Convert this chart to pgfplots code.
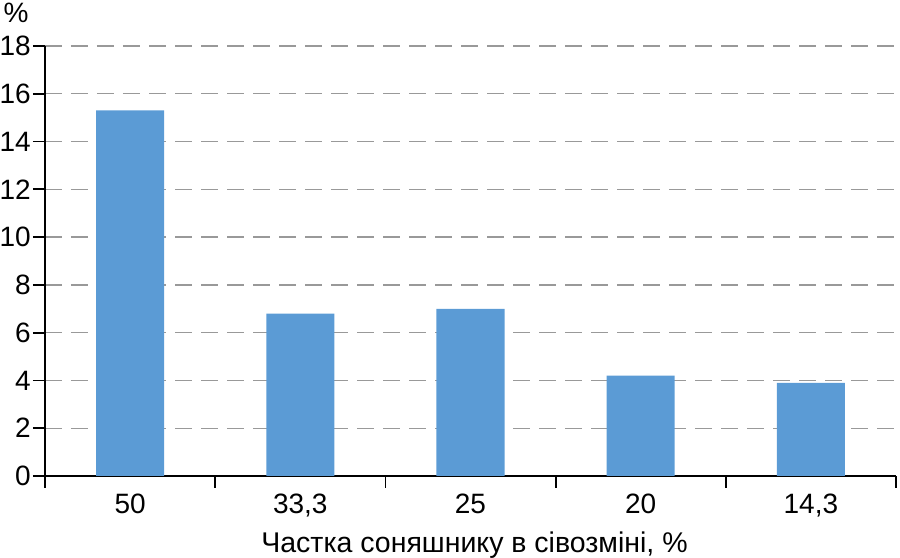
\documentclass[border=0pt]{standalone}
\usepackage{fontspec}
\setmainfont{Liberation Sans}
\usepackage{pgfplots}
\pgfplotsset{compat=1.18}
\definecolor{barblue}{RGB}{91,155,213}
\begin{document}
\begin{tikzpicture}
\begin{axis}[
 name=ax,
 width=851pt, height=430pt, scale only axis,
 xmin=-0.5, xmax=4.5, ymin=0, ymax=18,
 axis x line*=bottom, axis y line*=left,
 axis line style={line width=1.8pt, -},
 ytick={0,2,...,18},
 xtick={-0.5,0.5,...,4.5},
 x tick label as interval,
 xticklabels={50,{33,3},25,20,{14,3}},
 major tick length=12pt,
 tick style={line width=1.8pt, black},
 tick align=outside,
 ymajorgrids,
 grid style={black!40, dash pattern=on 17pt off 9pt, line width=1.3pt},
 every tick label/.append style={font=\fontsize{28}{32}\selectfont},
 yticklabel style={inner sep=2pt},
 xticklabel style={yshift=-2pt},
 /pgf/number format/assume math mode=true,
]
\addplot[ybar, bar width=0.4, bar shift=0pt, fill=barblue, draw=none]
 coordinates {(0,15.3) (1,6.8) (2,7.0) (3,4.2) (4,3.9)};
\end{axis}
\node[anchor=base, font=\fontsize{28.5}{32}\selectfont] at ([xshift=4pt,yshift=-77pt]ax.south) {Частка соняшнику в сівозміні, \%};
\node[font=\fontsize{28}{32}\selectfont] at ([xshift=-29pt,yshift=33pt]ax.north west) {\%};
\pgfresetboundingbox
\path[use as bounding box] ([xshift=-45pt,yshift=-82pt]ax.south west) rectangle ([xshift=4pt,yshift=46pt]ax.north east);
\end{tikzpicture}
\end{document}
